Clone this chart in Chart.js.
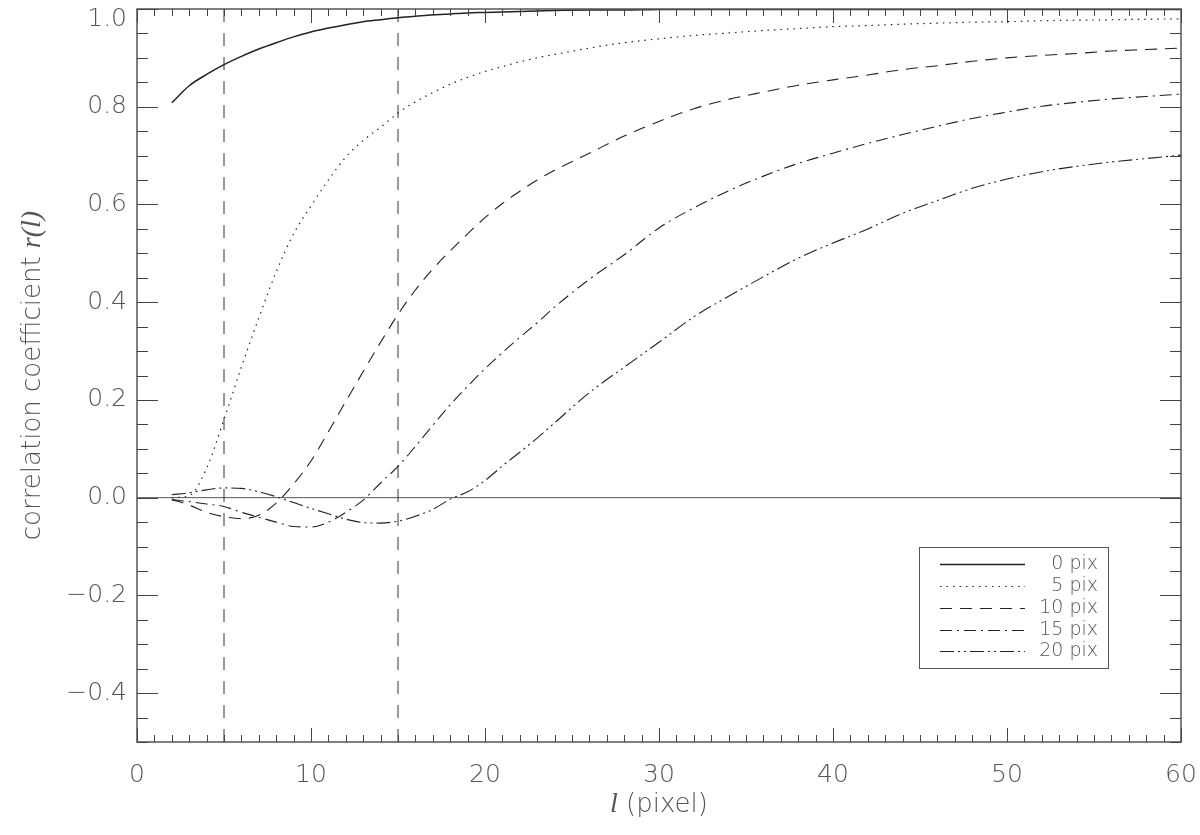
<!DOCTYPE html>
<html>
<head>
<meta charset="utf-8">
<script src="https://cdn.jsdelivr.net/npm/chart.js@4.4.1/dist/chart.umd.min.js"></script>
<style>
  html, body { margin: 0; padding: 0; background: #fff; }
  #wrap { width: 1200px; height: 835px; position: relative; }
</style>
</head>
<body>
<div id="wrap"><canvas id="c" width="1200" height="835"></canvas></div>
<script>
// ---- data ----
const L = [2,3,4,5,6,7,8,9,10,11,12,13,14,15,16,17,18,19,20,21,22,23,24,26,28,30,32,34,36,38,40,42,44,46,48,50,52,54,56,58,60];
const R0  = [0.808,0.843,0.866,0.886,0.903,0.918,0.931,0.943,0.953,0.961,0.968,0.974,0.978,0.982,0.985,0.988,0.990,0.992,0.993,0.994,0.995,0.996,0.997,0.998,0.998,0.999,0.999,0.999,0.999,0.999,0.999,0.999,0.999,0.999,0.999,0.999,0.999,0.999,0.999,0.999,0.999];
const R5  = [0.000,0.004,0.060,0.160,0.267,0.368,0.462,0.540,0.597,0.650,0.697,0.731,0.758,0.787,0.810,0.829,0.846,0.860,0.872,0.882,0.892,0.900,0.907,0.920,0.931,0.939,0.946,0.951,0.956,0.960,0.964,0.966,0.969,0.971,0.973,0.974,0.976,0.977,0.978,0.979,0.980];
const R10 = [-0.004,-0.015,-0.030,-0.039,-0.043,-0.036,-0.011,0.028,0.075,0.135,0.197,0.258,0.318,0.375,0.425,0.468,0.505,0.540,0.573,0.602,0.627,0.650,0.670,0.705,0.740,0.770,0.796,0.815,0.830,0.844,0.855,0.865,0.876,0.884,0.893,0.900,0.905,0.909,0.914,0.917,0.920];
const R15 = [-0.004,-0.008,-0.013,-0.018,-0.030,-0.040,-0.050,-0.059,-0.060,-0.050,-0.030,-0.005,0.030,0.064,0.105,0.148,0.190,0.228,0.264,0.297,0.328,0.358,0.390,0.447,0.497,0.552,0.593,0.628,0.658,0.684,0.705,0.725,0.743,0.760,0.776,0.789,0.801,0.809,0.816,0.821,0.826];
const R20 = [0.006,0.010,0.016,0.020,0.019,0.012,0.002,-0.010,-0.022,-0.033,-0.044,-0.051,-0.052,-0.048,-0.038,-0.024,-0.003,0.012,0.035,0.065,0.093,0.122,0.153,0.215,0.267,0.318,0.370,0.412,0.452,0.490,0.521,0.550,0.582,0.608,0.633,0.652,0.667,0.678,0.687,0.694,0.701];
const SERIES_NAMES = ['0 pix','5 pix','10 pix','15 pix','20 pix'];
const MARK_X = [5, 15];
const X_TICKS = [0,10,20,30,40,50,60];
const Y_TICKS = [-0.4,-0.2,0.0,0.2,0.4,0.6,0.8,1.0];
const X_RANGE = [0, 60];
const Y_RANGE = [-0.5, 1.0];

const pts = arr => L.map((x, i) => ({x, y: arr[i]}));

const lineColor = '#222';
const styles = [
  {dash: [], width: 1.5},
  {dash: [1.5, 5], width: 1.2},
  {dash: [12, 8], width: 1.1},
  {dash: [12, 5, 2, 5], width: 1.1},
  {dash: [14, 4, 2, 4, 2, 4], width: 1.1}
];

const datasets = [R0, R5, R10, R15, R20].map((arr, i) => ({
  label: SERIES_NAMES[i],
  data: pts(arr),
  borderColor: lineColor,
  borderWidth: styles[i].width,
  borderDash: styles[i].dash,
  pointRadius: 0,
  fill: false,
  cubicInterpolationMode: 'monotone',
  isSeries: true
}));

MARK_X.forEach(mx => datasets.push({
  label: 'mark' + mx,
  data: [{x: mx, y: Y_RANGE[0]}, {x: mx, y: Y_RANGE[1]}],
  borderColor: '#333', borderWidth: 1, borderDash: [13, 11],
  pointRadius: 0, fill: false
}));
datasets.push({
  label: 'zero',
  data: [{x: X_RANGE[0], y: 0}, {x: X_RANGE[1], y: 0}],
  borderColor: '#555', borderWidth: 1, pointRadius: 0, fill: false
});

const X_TICK_FONT = {family: "'DejaVu Sans', sans-serif", size: 25, weight: '200'};
const Y_TICK_FONT = {family: "'DejaVu Sans', sans-serif", size: 25, weight: '200', lineHeight: 0.8};

const boxPlugin = {
  id: 'box',
  afterDraw(chart) {
    const {ctx, chartArea: a, scales: {x, y}} = chart;
    ctx.save();
    ctx.strokeStyle = '#555';
    ctx.lineWidth = 1.5;
    ctx.setLineDash([]);
    ctx.strokeRect(a.left, a.top, a.right - a.left, a.bottom - a.top);
    ctx.lineWidth = 1;
    ctx.strokeStyle = '#444';
    ctx.beginPath();
    for (let v = X_RANGE[0]; v <= X_RANGE[1]; v += 1) {
      const px = Math.round(x.getPixelForValue(v)) + 0.5;
      const len = (v % 10 === 0) ? 14 : 7;
      ctx.moveTo(px, a.bottom); ctx.lineTo(px, a.bottom - len);
      ctx.moveTo(px, a.top); ctx.lineTo(px, a.top + len);
    }
    for (let k = -10; k <= 20; k++) {
      const v = k * 0.05;
      const py = Math.round(y.getPixelForValue(v)) + 0.5;
      const len = (k % 4 === 0) ? 21 : 11;
      ctx.moveTo(a.left, py); ctx.lineTo(a.left + len, py);
      ctx.moveTo(a.right, py); ctx.lineTo(a.right - len, py);
    }
    ctx.stroke();

    // axis titles
    ctx.fillStyle = '#555';
    const sans = "200 26px 'DejaVu Sans', sans-serif";
    const ital = "italic 28px 'Liberation Serif', 'DejaVu Serif', serif";
    // x title
    ctx.textBaseline = 'middle';
    ctx.font = ital; const wL = ctx.measureText('l').width;
    ctx.font = sans; const wP = ctx.measureText(' (pixel)').width;
    const cx = (a.left + a.right) / 2;
    let sx = cx - (wL + wP) / 2;
    ctx.textAlign = 'left';
    ctx.font = ital; ctx.fillText('l', sx, 805);
    ctx.font = sans; ctx.fillText(' (pixel)', sx + wL, 805);
    // y title
    ctx.save();
    ctx.translate(33, (a.top + a.bottom) / 2);
    ctx.rotate(-Math.PI / 2);
    ctx.font = sans; const w1 = ctx.measureText('correlation coefficient ').width;
    ctx.font = ital; const w2 = ctx.measureText('r(l)').width;
    let sy = -(w1 + w2) / 2;
    ctx.font = sans; ctx.fillText('correlation coefficient ', sy, 0);
    ctx.font = ital; ctx.fillText('r(l)', sy + w1, 0);
    ctx.restore();

    // legend
    const lx = 919, ly = 547, lw = 189, lh = 121;
    ctx.fillStyle = '#fff';
    ctx.fillRect(lx, ly, lw, lh);
    ctx.strokeStyle = '#555'; ctx.lineWidth = 1;
    ctx.strokeRect(lx + 0.5, ly + 0.5, lw, lh);
    const rows = [564, 586, 608, 630, 651];
    ctx.font = "200 19px 'DejaVu Sans', sans-serif";
    ctx.textAlign = 'right';
    ctx.textBaseline = 'middle';
    chart.data.datasets.filter(d => d.isSeries).forEach((d, i) => {
      ctx.strokeStyle = d.borderColor;
      ctx.lineWidth = d.borderWidth;
      ctx.setLineDash(d.borderDash);
      ctx.beginPath();
      ctx.moveTo(940, rows[i] + 0.5); ctx.lineTo(1025, rows[i] + 0.5);
      ctx.stroke();
      ctx.setLineDash([]);
      ctx.fillStyle = '#555';
      ctx.fillText(d.label, 1098, rows[i]);
    });
    ctx.restore();
  }
};

new Chart(document.getElementById('c'), {
  type: 'line',
  data: {datasets},
  options: {
    responsive: false,
    animation: false,
    devicePixelRatio: 1,
    layout: {autoPadding: false, padding: {top: 9, right: 19, left: 0, bottom: 0}},
    plugins: {legend: {display: false}, tooltip: {enabled: false}},
    scales: {
      x: {
        type: 'linear', min: X_RANGE[0], max: X_RANGE[1],
        grid: {display: false, drawTicks: false},
        border: {display: false},
        afterBuildTicks: s => { s.ticks = X_TICKS.map(v => ({value: v})); },
        afterFit: s => { s.height = 93; s.paddingLeft = 0; s.paddingRight = 0; },
        ticks: {
          font: X_TICK_FONT, color: '#555', padding: 18, maxRotation: 0,
          callback: v => String(v)
        }
      },
      y: {
        type: 'linear', min: Y_RANGE[0], max: Y_RANGE[1],
        grid: {display: false, drawTicks: false},
        border: {display: false},
        afterBuildTicks: s => { s.ticks = Y_TICKS.map(v => ({value: v})); },
        afterFit: s => { s.width = 137; s.paddingTop = 0; s.paddingBottom = 0; },
        ticks: {
          font: Y_TICK_FONT, color: '#555', padding: 10,
          callback: v => {
            const t = (v < 0 ? '\u2212' : '') + Math.abs(v).toFixed(1);
            return v === Y_RANGE[1] ? ['', t] : t;
          }
        }
      }
    }
  },
  plugins: [boxPlugin]
});
</script>
</body>
</html>
